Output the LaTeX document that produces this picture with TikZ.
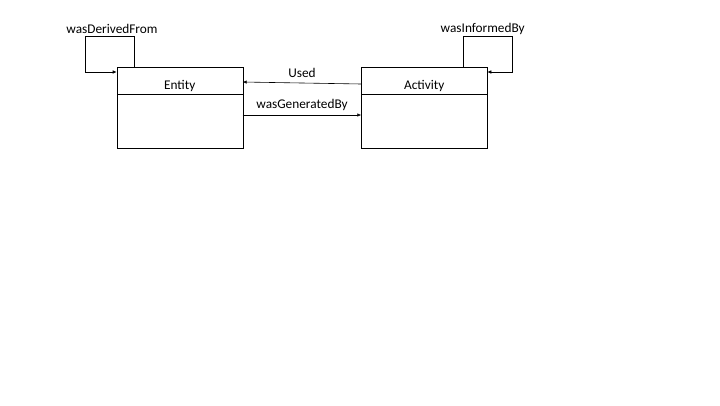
\documentclass[tikz,border=0pt]{standalone}
\usepackage{fontspec}
\setmainfont{Carlito}
\usetikzlibrary{arrows.meta, positioning}

\begin{document}
\begin{tikzpicture}[
        x=1pt, y=-1pt,
        every node/.style={font=\fontsize{13.3}{16}\selectfont},
        cabecera/.style={draw, outer sep=0pt, minimum width=126pt, minimum height=27.6pt,
            inner sep=0pt, text height=17pt, text depth=0pt},
        cuerpo/.style={draw, outer sep=0pt, minimum width=126pt, minimum height=53.4pt, inner sep=0pt},
        flecha/.style={-{Latex[length=4pt, width=3.5pt]}, line width=0.6pt}
    ]
    \useasboundingbox (0,0) rectangle (720,405);

    % Entidad
    \node[cabecera] (entidad) at (179.7,80.5) {Entity};
    \node[cuerpo, below=0pt of entidad] (entidadCuerpo) {};

    % Actividad
    \node[cabecera] (actividad) at (424.3,80.5) {Activity};
    \node[cuerpo, below=0pt of actividad] (actividadCuerpo) {};

    % Relaciones entre las dos
    \draw[flecha] ([yshift=-3.5pt]actividad.west) -- ([yshift=-1.5pt]entidad.east)
        node[midway, above=2pt] (used) {Used};
    \draw[flecha] ([yshift=6pt]entidadCuerpo.east) -- ([yshift=6pt]actividadCuerpo.west)
        node[midway, above=0.5pt] (generada) {wasGeneratedBy};

    % Bucles
    \draw[flecha] ([xshift=17.6pt]entidad.north west) -- ++(0,-30) -- ++(-48.6,0)
        |- ([yshift=-5.3pt]entidad.north west);
    \node (derivada) at (112,28.5) {wasDerivedFrom};
    \draw[flecha] ([xshift=-24.3pt]actividad.north east) -- ++(0,-30) -- ++(49,0)
        |- ([yshift=-5.3pt]actividad.north east);
    \node (informada) at (482.7,28.5) {wasInformedBy};
\end{tikzpicture}
\end{document}
